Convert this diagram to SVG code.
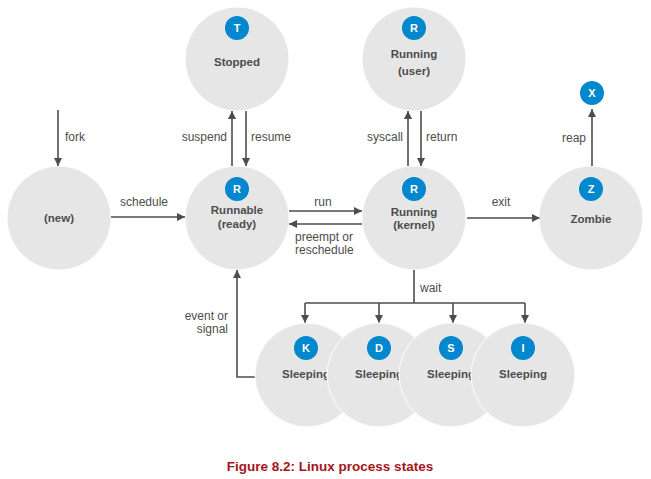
<svg xmlns="http://www.w3.org/2000/svg" width="651" height="479" viewBox="0 0 651 479">
<style>
.st{fill:#e6e6e6}
.sl{fill:#e6e6e6;stroke:#ffffff;stroke-width:1}
.bd{fill:#0088ce}
.bl{font-family:"Liberation Sans",Arial,sans-serif;font-weight:bold;font-size:11px;fill:#ffffff;text-anchor:middle}
.nm{font-family:"Liberation Sans",Arial,sans-serif;font-weight:bold;font-size:11.5px;fill:#4d4d4d;text-anchor:middle}
.lb{font-family:"Liberation Sans",Arial,sans-serif;font-size:12px;fill:#4d4d4d}
.ln{fill:none;stroke:#4d4d4d;stroke-width:1.6}
.cap{font-family:"Liberation Sans",Arial,sans-serif;font-weight:bold;font-size:13.5px;fill:#a3161a;text-anchor:middle}
</style>
<defs>
<marker id="ah" viewBox="0 0 10 10" refX="10" refY="5" markerWidth="8" markerHeight="8" markerUnits="userSpaceOnUse" orient="auto">
<path d="M0,0 L10,5 L0,10 z" fill="#4d4d4d"/>
</marker>
</defs>
<g id="connectors">
<line class="ln" x1="58" y1="110" x2="58" y2="166" marker-end="url(#ah)"/>
<line class="ln" x1="111" y1="217" x2="185" y2="217" marker-end="url(#ah)"/>
<line class="ln" x1="232" y1="166" x2="232" y2="111" marker-end="url(#ah)"/>
<line class="ln" x1="246" y1="111" x2="246" y2="166" marker-end="url(#ah)"/>
<line class="ln" x1="408" y1="166" x2="408" y2="111" marker-end="url(#ah)"/>
<line class="ln" x1="421" y1="111" x2="421" y2="166" marker-end="url(#ah)"/>
<line class="ln" x1="289" y1="211" x2="362" y2="211" marker-end="url(#ah)"/>
<line class="ln" x1="362" y1="224" x2="289" y2="224" marker-end="url(#ah)"/>
<line class="ln" x1="467" y1="218" x2="540" y2="218" marker-end="url(#ah)"/>
<line class="ln" x1="592" y1="166" x2="592" y2="109" marker-end="url(#ah)"/>
<polyline class="ln" points="414,270 414,303"/>
<polyline class="ln" points="305,303 525,303"/>
<line class="ln" x1="305" y1="303" x2="305" y2="323" marker-end="url(#ah)"/>
<line class="ln" x1="379" y1="303" x2="379" y2="323" marker-end="url(#ah)"/>
<line class="ln" x1="453" y1="303" x2="453" y2="323" marker-end="url(#ah)"/>
<line class="ln" x1="525" y1="303" x2="525" y2="323" marker-end="url(#ah)"/>
<polyline class="ln" points="256,377 237,377 237,270" marker-end="url(#ah)"/>
<text class="lb" x="65" y="141">fork</text>
<text class="lb" x="144" y="206" text-anchor="middle">schedule</text>
<text class="lb" x="227" y="141" text-anchor="end">suspend</text>
<text class="lb" x="251" y="141">resume</text>
<text class="lb" x="403" y="141" text-anchor="end">syscall</text>
<text class="lb" x="426" y="141">return</text>
<text class="lb" x="323" y="206" text-anchor="middle">run</text>
<text class="lb" x="295" y="241">preempt or</text>
<text class="lb" x="295" y="254">reschedule</text>
<text class="lb" x="501" y="206" text-anchor="middle">exit</text>
<text class="lb" x="586" y="142" text-anchor="end">reap</text>
<text class="lb" x="420" y="292">wait</text>
<text class="lb" x="228" y="320" text-anchor="end">event or</text>
<text class="lb" x="228" y="333" text-anchor="end">signal</text>
</g>
<g id="new">
<circle class="st" cx="59" cy="218" r="51.5"/>
<text class="nm" x="59" y="222">(new)</text>
</g>
<g id="stopped">
<circle class="st" cx="237" cy="59" r="51.5"/>
<circle class="bd" cx="237" cy="28" r="12"/>
<text class="bl" x="237" y="32">T</text>
<text class="nm" x="237" y="66">Stopped</text>
</g>
<g id="running-user">
<circle class="st" cx="414" cy="59" r="51.5"/>
<circle class="bd" cx="414" cy="28" r="12"/>
<text class="bl" x="414" y="32">R</text>
<text class="nm" x="414" y="58">Running</text>
<text class="nm" x="414" y="75">(user)</text>
</g>
<g id="runnable">
<circle class="st" cx="237" cy="218" r="51.5"/>
<circle class="bd" cx="237" cy="189" r="12"/>
<text class="bl" x="237" y="193">R</text>
<text class="nm" x="237" y="214">Runnable</text>
<text class="nm" x="237" y="228">(ready)</text>
</g>
<g id="running-kernel">
<circle class="st" cx="414" cy="218" r="51.5"/>
<circle class="bd" cx="414" cy="189" r="12"/>
<text class="bl" x="414" y="193">R</text>
<text class="nm" x="414" y="216">Running</text>
<text class="nm" x="414" y="229">(kernel)</text>
</g>
<g id="zombie">
<circle class="st" cx="591" cy="218" r="51.5"/>
<circle class="bd" cx="591" cy="189" r="12"/>
<text class="bl" x="591" y="193">Z</text>
<text class="nm" x="591" y="223">Zombie</text>
</g>
<g id="dead">
<circle class="bd" cx="592" cy="93" r="12"/>
<text class="bl" x="592" y="97">X</text>
</g>
<g id="sleeping-k">
<circle class="sl" cx="307" cy="375" r="52"/>
<circle class="bd" cx="306" cy="348" r="12"/>
<text class="bl" x="306" y="352">K</text>
<text class="nm" x="306" y="378">Sleeping</text>
</g>
<g id="sleeping-d">
<circle class="sl" cx="379" cy="375" r="52"/>
<circle class="bd" cx="379" cy="348" r="12"/>
<text class="bl" x="379" y="352">D</text>
<text class="nm" x="379" y="378">Sleeping</text>
</g>
<g id="sleeping-s">
<circle class="sl" cx="451" cy="375" r="52"/>
<circle class="bd" cx="451" cy="348" r="12"/>
<text class="bl" x="451" y="352">S</text>
<text class="nm" x="451" y="378">Sleeping</text>
</g>
<g id="sleeping-i">
<circle class="sl" cx="523" cy="375" r="52"/>
<circle class="bd" cx="523" cy="348" r="12"/>
<text class="bl" x="523" y="352">I</text>
<text class="nm" x="523" y="378">Sleeping</text>
</g>
<text class="cap" x="330" y="471">Figure 8.2: Linux process states</text>
</svg>
